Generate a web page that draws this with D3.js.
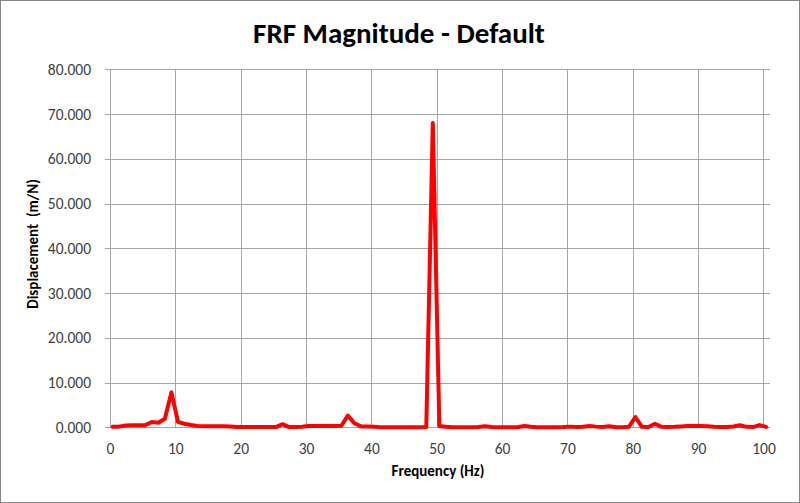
<!DOCTYPE html>
<html>
<head>
<meta charset="utf-8">
<script src="https://cdn.jsdelivr.net/npm/d3@7"></script>
<style>
  body { margin: 0; background: #fff; }
  text { font-family: Calibri, Carlito, "Liberation Sans", Arial, sans-serif; white-space: pre; }
</style>
</head>
<body>
<script>
var title = "FRF Magnitude - Default",
    xLabel = "Frequency (Hz)",
    yLabel = "Displacement  (m/N)";

var freq = [0.4, 1.4, 2.4, 3.4, 4.4, 5.4, 6.4, 7.4, 8.4, 9.4,
            10.4, 11.4, 12.4, 13.4, 14.4, 15.4, 16.4, 17.4, 18.4, 19.4,
            20.4, 21.4, 22.4, 23.4, 24.4, 25.4, 26.4, 27.4, 28.4, 29.4,
            30.4, 31.4, 32.4, 33.4, 34.4, 35.4, 36.4, 37.4, 38.4, 39.4,
            40.4, 41.4, 42.4, 43.4, 44.4, 45.4, 46.4, 47.4, 48.4, 49.4,
            50.4, 51.4, 52.4, 53.4, 54.4, 55.4, 56.4, 57.4, 58.4, 59.4,
            60.4, 61.4, 62.4, 63.4, 64.4, 65.4, 66.4, 67.4, 68.4, 69.4,
            70.4, 71.4, 72.4, 73.4, 74.4, 75.4, 76.4, 77.4, 78.4, 79.4,
            80.4, 81.4, 82.4, 83.4, 84.4, 85.4, 86.4, 87.4, 88.4, 89.4,
            90.4, 91.4, 92.4, 93.4, 94.4, 95.4, 96.4, 97.4, 98.4, 99.4,
            100.4];

var magnitude = [0.10, 0.15, 0.40, 0.45, 0.45, 0.45, 1.20, 1.00, 1.90, 7.80,
                 1.20, 0.80, 0.50, 0.30, 0.25, 0.25, 0.25, 0.25, 0.20, 0.05,
                 0.05, 0.05, 0.05, 0.05, 0.05, 0.05, 0.70, 0.05, 0.05, 0.10,
                 0.30, 0.30, 0.30, 0.30, 0.30, 0.35, 2.60, 0.90, 0.20, 0.20,
                 0.15, 0.02, 0.02, 0.02, 0.02, 0.02, 0.02, 0.02, 0.05, 68.0,
                 0.30, 0.10, 0.02, 0.02, 0.02, 0.02, 0.05, 0.25, 0.05, 0.02,
                 0.02, 0.02, 0.02, 0.30, 0.10, 0.02, 0.02, 0.02, 0.02, 0.05,
                 0.15, 0.05, 0.10, 0.30, 0.15, 0.05, 0.25, 0.02, 0.02, 0.10,
                 2.30, 0.10, 0.05, 0.80, 0.10, 0.05, 0.10, 0.20, 0.30, 0.30,
                 0.30, 0.25, 0.10, 0.05, 0.05, 0.20, 0.45, 0.10, 0.05, 0.50,
                 0.10];

var xTicks = [0, 10, 20, 30, 40, 50, 60, 70, 80, 90, 100],
    yTicks = [0, 10, 20, 30, 40, 50, 60, 70, 80];

var width = 800,
    height = 503,
    plotLeft = 110,
    plotRight = 770,
    plotTop = 69.3,
    plotBottom = 427.3;

var svg = d3.select("body")
  .append("svg")
    .attr("width", width)
    .attr("height", height);

// chart border
svg.append("rect")
  .attr("x", 0.5).attr("y", 0.5)
  .attr("width", width - 1).attr("height", height - 1)
  .attr("fill", "#fff")
  .attr("stroke", "#868686");

var x = d3.scaleLinear().domain([0, 101]).range([plotLeft, plotRight]);
var y = d3.scaleLinear().domain([0, 80]).range([plotBottom, plotTop]);

var grid = svg.append("g").attr("stroke", "#a6a6a6").attr("stroke-width", 1);

grid.selectAll(".hgrid")
    .data(yTicks)
    .enter()
  .append("line")
    .attr("class", "hgrid")
    .attr("x1", plotLeft - 5)
    .attr("x2", plotRight)
    .attr("y1", function(d) { return Math.round(y(d)) + 0.5; })
    .attr("y2", function(d) { return Math.round(y(d)) + 0.5; });

grid.selectAll(".vgrid")
    .data(xTicks)
    .enter()
  .append("line")
    .attr("class", "vgrid")
    .attr("x1", function(d) { return Math.round(x(d)) + 0.5; })
    .attr("x2", function(d) { return Math.round(x(d)) + 0.5; })
    .attr("y1", plotTop)
    .attr("y2", plotBottom);

// axes with labels only (tick lines drawn above as grid)
var xAxis = d3.axisBottom(x).tickValues(xTicks).tickSize(0).tickPadding(16).tickFormat(d3.format("d"));
var yAxis = d3.axisLeft(y).tickValues(yTicks).tickSize(0).tickPadding(19).tickFormat(d3.format(".3f"));

svg.append("g")
    .attr("transform", "translate(0," + plotBottom + ")")
    .call(xAxis)
    .call(function(g) { g.select(".domain").remove(); })
    .selectAll("text")
      .attr("font-size", 15.5)
      .attr("fill", "#404040");

svg.append("g")
    .attr("transform", "translate(" + plotLeft + ",0)")
    .call(yAxis)
    .call(function(g) { g.select(".domain").remove(); })
    .selectAll("text")
      .attr("font-size", 15.5)
      .attr("fill", "#404040");

var line = d3.line()
  .x(function(d, i) { return x(freq[i]); })
  .y(function(d) { return y(d); });

svg.append("path")
  .datum(magnitude)
  .attr("d", line)
  .attr("fill", "none")
  .attr("stroke", "#ff0000")
  .attr("stroke-width", 4)
  .attr("stroke-linejoin", "round")
  .attr("stroke-linecap", "round");

svg.append("text")
  .attr("x", 399)
  .attr("y", 43)
  .attr("text-anchor", "middle")
  .attr("font-size", 29)
  .attr("font-weight", "bold")
  .attr("fill", "#000")
  .text(title);

svg.append("text")
  .attr("x", 438)
  .attr("y", 476)
  .attr("text-anchor", "middle")
  .attr("font-size", 15)
  .attr("font-weight", "bold")
  .attr("fill", "#000")
  .text(xLabel);

svg.append("text")
  .attr("transform", "translate(38,244) rotate(-90)")
  .attr("text-anchor", "middle")
  .attr("font-size", 15)
  .attr("font-weight", "bold")
  .attr("fill", "#000")
  .text(yLabel);
</script>
</body>
</html>
